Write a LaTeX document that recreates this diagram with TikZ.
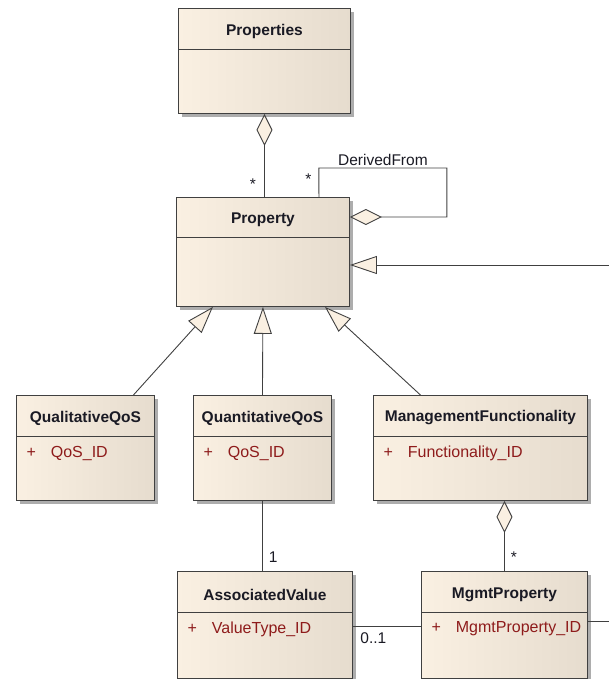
\documentclass[tikz,border=0pt]{standalone}
\usepackage{fontspec}
\setmainfont{Liberation Sans}
\usetikzlibrary{arrows.meta,shadows}
\definecolor{boxleft}{HTML}{FAF0E2}
\definecolor{boxright}{HTML}{E6DCCE}
\definecolor{attrred}{HTML}{8E1B1B}
\definecolor{linegray}{HTML}{404040}
\definecolor{titleink}{HTML}{1A1A24}

\begin{document}
\begin{tikzpicture}[x=1pt, y=-1pt,
    classbox/.style={draw=linegray, line width=0.9pt, left color=boxleft, right color=boxright,
        anchor=north west, inner sep=0pt,
        drop shadow={fill=black!32, opacity=1, shadow xshift=4pt, shadow yshift=-4pt}},
    classsep/.style={draw=linegray, line width=0.9pt},
    classtitle/.style={font=\fontsize{15.5}{18}\selectfont\bfseries, text=titleink},
    classattr/.style={anchor=west, font=\fontsize{16}{19}\selectfont, text=attrred},
    mult/.style={font=\fontsize{15.5}{18}\selectfont, text=titleink, inner sep=2pt},
    assoc/.style={draw=linegray, line width=0.9pt},
    aggr/.style={assoc, {Diamond[length=32pt, width=16pt, fill=boxleft]}-},
    gener/.style={assoc, -{Triangle[length=27pt, width=18pt, fill=boxleft]}}]

    \useasboundingbox (0,0) rectangle (609,679);

    % classes
    \node[classbox, minimum width=172pt, minimum height=105pt] (properties) at (178,8) {};
    \node[classbox, minimum width=173pt, minimum height=109pt] (property) at (176,197) {};
    \node[classbox, minimum width=138pt, minimum height=105pt] (qualitative) at (16,395) {};
    \node[classbox, minimum width=138pt, minimum height=105pt] (quantitative) at (193,395) {};
    \node[classbox, minimum width=214pt, minimum height=105pt] (management) at (373,395) {};
    \node[classbox, minimum width=175pt, minimum height=107pt] (associated) at (177,571) {};
    \node[classbox, minimum width=166pt, minimum height=107pt] (mgmtprop) at (421,571) {};

    \foreach \c/\h in {properties/41, property/40, qualitative/41, quantitative/41,
                       management/41, associated/41, mgmtprop/41}
        \draw[classsep] ([yshift=-\h pt]\c.north west) -- ([yshift=-\h pt]\c.north east);

    \node[classtitle] at ([yshift=-23pt]properties.north) {Properties};
    \node[classtitle] at ([yshift=-23pt]property.north) {Property};
    \node[classtitle] at ([yshift=-23pt]qualitative.north) {QualitativeQoS};
    \node[classtitle] at ([yshift=-23pt]quantitative.north) {QuantitativeQoS};
    \node[classtitle] at ([yshift=-23pt]management.north) {ManagementFunctionality};
    \node[classtitle] at ([yshift=-24pt]associated.north) {AssociatedValue};
    \node[classtitle] at ([yshift=-24pt]mgmtprop.north) {MgmtProperty};

    \node[classattr] at ([xshift=7pt, yshift=-58pt]qualitative.north west) {+\hspace{15pt}QoS\_ID};
    \node[classattr] at ([xshift=7pt, yshift=-58pt]quantitative.north west) {+\hspace{15pt}QoS\_ID};
    \node[classattr] at ([xshift=7pt, yshift=-58pt]management.north west) {+\hspace{15pt}Functionality\_ID};
    \node[classattr] at ([xshift=7pt, yshift=-58pt]associated.north west) {+\hspace{15pt}ValueType\_ID};
    \node[classattr] at ([xshift=7pt, yshift=-58pt]mgmtprop.north west) {+\hspace{15pt}MgmtProperty\_ID};

    % free ends at the right edge
    \coordinate (rightin) at (609,265);
    \coordinate (rightout) at (609,621);

    % connectors
    \draw[aggr] (properties.south) -- (properties.south |- property.north)
        node[mult, pos=0.84, left=6pt] {*};
    \draw[aggr] ([yshift=-20pt]property.north east) -- ++(97,0) -- ++(0,-49)
        -- ++(-128,0) node[mult, midway, above=0pt] {DerivedFrom}
        -- ([xshift=56pt]property.north) node[mult, pos=0.4, left=5pt] {*};
    \draw[gener] (rightin) -- ([yshift=-68pt]property.north east);
    \draw[gener] ([xshift=48pt]qualitative.north) -- ([xshift=-50pt]property.south);
    \draw[gener] (quantitative.north) -- (property.south);
    \draw[gener] ([xshift=-60pt]management.north) -- ([xshift=62pt]property.south);
    \draw[assoc] (quantitative.south) -- (quantitative.south |- associated.north)
        node[mult, pos=0.8, right=4pt] {1};
    \draw[assoc] ([yshift=-55pt]associated.north east) -- ([yshift=-55pt]mgmtprop.north west)
        node[mult, pos=0.3, below=4pt] {0..1};
    \draw[aggr] (management.south -| mgmtprop.north) -- (mgmtprop.north)
        node[mult, pos=0.8, right=4pt] {*};
    \draw[assoc] ([yshift=-50pt]mgmtprop.north east) -- (rightout);
\end{tikzpicture}
\end{document}
